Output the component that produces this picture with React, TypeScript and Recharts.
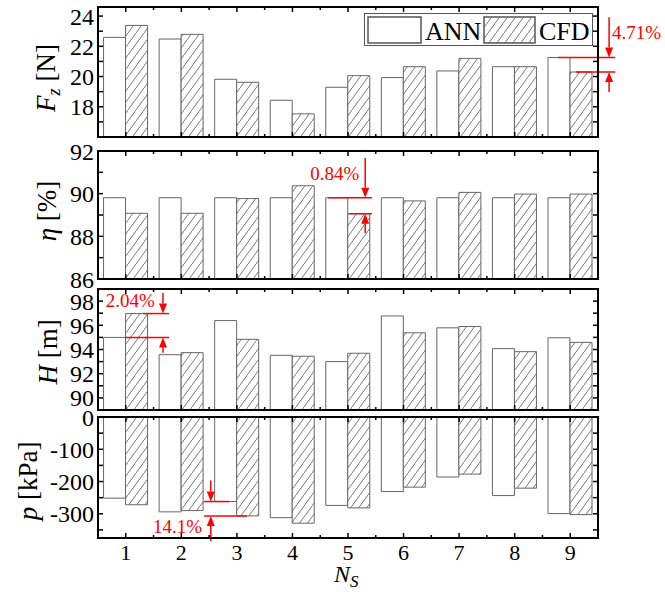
import React from "react";
import { Bar, BarChart, ReferenceDot, ReferenceLine, XAxis, YAxis } from "recharts";

// number of stages N_S
const categories = ["1", "2", "3", "4", "5", "6", "7", "8", "9"];

// axial force F_z [N]
const forceAnn = [22.59, 22.48, 19.82, 18.43, 19.29, 19.93, 20.37, 20.65, 21.26];
const forceCfd = [23.38, 22.79, 19.62, 17.53, 20.06, 20.65, 21.2, 20.65, 20.3];

// efficiency eta [%]
const effAnn = [89.81, 89.81, 89.81, 89.81, 89.81, 89.81, 89.81, 89.81, 89.81];
const effCfd = [89.08, 89.08, 89.77, 90.37, 89.06, 89.66, 90.06, 89.98, 89.98];

// head H [m]
const headAnn = [95.0, 93.57, 96.39, 93.52, 93.0, 96.77, 95.79, 94.07, 94.97];
const headCfd = [96.97, 93.74, 94.84, 93.44, 93.69, 95.38, 95.9, 93.82, 94.59];

// pressure p [kPa]
const presAnn = [-251.5, -294, -262, -312, -274, -231, -186, -243.5, -299.4];
const presCfd = [-272, -290, -306.5, -329, -281.7, -217.4, -177, -220.5, -302.5];

const forceTicks = [16, 17, 18, 19, 20, 21, 22, 23, 24];
const forceLabels = [18, 20, 22, 24];
const effTicks = [86, 87, 88, 89, 90, 91, 92];
const effLabels = [86, 88, 90, 92];
const headTicks = [89, 90, 91, 92, 93, 94, 95, 96, 97, 98, 99];
const headLabels = [90, 92, 94, 96, 98];
const presTicks = [0, -50, -100, -150, -200, -250, -300, -350];
const presLabels = [0, -100, -200, -300];

const W = 665;
const H = 592;
const LEFT = 98;
const RIGHT = 598;
const BAND = (RIGHT - LEFT) / categories.length;
const FONT = "'Liberation Serif', 'Times New Roman', serif";
const RED = "#ff0000";
const BAR_STROKE = "#666";

const panels = [
  { top: 7, bottom: 137 },
  { top: 151, bottom: 279 },
  { top: 289, bottom: 410 },
  { top: 417, bottom: 538 },
];

function makeRows(ann: number[], cfd: number[]) {
  return categories.map((c, i) => ({ ns: c, pos: i + 1, ann: ann[i], cfd: cfd[i] }));
}

function Arrow(props: any) {
  const { x1, y1, x2, y2 } = props;
  const dir = Math.sign(y2 - y1);
  const head = 10;
  const half = 4;
  return (
    <g>
      <line x1={x1} y1={y1} x2={x2} y2={y2 - dir * head} stroke={RED} strokeWidth={1.5} />
      <polygon
        points={`${x2},${y2} ${x2 - half},${y2 - dir * head} ${x2 + half},${y2 - dir * head}`}
        fill={RED}
      />
    </g>
  );
}

function Note(text: string) {
  return (p: any) => (
    <text x={p.cx} y={p.cy} fill={RED} fontSize={19} fontFamily={FONT}>
      {text}
    </text>
  );
}

function XTick(props: any) {
  const { x, payload, index, top, bottom, showLabel } = props;
  const minorX = x + BAND / 2;
  const last = index === categories.length - 1;
  return (
    <g>
      <line x1={x} x2={x} y1={bottom} y2={bottom - 5} stroke="#000" strokeWidth={1.5} />
      <line x1={x} x2={x} y1={top} y2={top + 5} stroke="#000" strokeWidth={1.5} />
      {!last && (
        <>
          <line x1={minorX} x2={minorX} y1={bottom} y2={bottom - 3} stroke="#000" strokeWidth={1.5} />
          <line x1={minorX} x2={minorX} y1={top} y2={top + 3} stroke="#000" strokeWidth={1.5} />
        </>
      )}
      {showLabel && (
        <text x={x} y={bottom + 22} textAnchor="middle" fontSize={22} fontFamily={FONT} fill="#000">
          {payload.value}
        </text>
      )}
    </g>
  );
}

type PanelProps = {
  rows: { ns: string; pos: number; ann: number; cfd: number }[];
  domain: [number, number];
  ticks: number[];
  labels: number[];
  top: number;
  bottom: number;
  showLabels?: boolean;
  children?: React.ReactNode;
};

function Panel({ rows, domain, ticks, labels, top, bottom, showLabels, children }: PanelProps) {
  return (
    <div style={{ position: "absolute", left: 0, top: 0 }}>
      <BarChart
        width={W}
        height={H}
        data={rows}
        margin={{ top, bottom: H - bottom - 1, left: 0, right: 0 }}
        barCategoryGap="10%"
        barGap={0}
      >
        <XAxis
          dataKey="ns"
          height={1}
          axisLine={false}
          tickLine={false}
          interval={0}
          tick={(p: any) => <XTick {...p} top={top} bottom={bottom} showLabel={showLabels} />}
        />
        <XAxis xAxisId="n" dataKey="pos" type="number" domain={[0.5, 9.5]} allowDataOverflow hide />
        <YAxis
          domain={domain}
          ticks={ticks}
          interval={0}
          allowDataOverflow
          width={LEFT}
          axisLine={false}
          tickSize={-5}
          tickMargin={9}
          tickLine={{ stroke: "#000", strokeWidth: 1.5 }}
          tick={{ fontSize: 24, fill: "#000", fontFamily: FONT }}
          tickFormatter={(v: number) => (labels.includes(v) ? String(v) : "")}
        />
        <YAxis
          yAxisId="r"
          orientation="right"
          domain={domain}
          ticks={ticks}
          interval={0}
          allowDataOverflow
          width={W - RIGHT}
          axisLine={false}
          tickSize={-5}
          tickLine={{ stroke: "#000", strokeWidth: 1.5 }}
          tickFormatter={() => ""}
        />
        <Bar dataKey="ann" fill="#fff" stroke={BAR_STROKE} strokeWidth={1} isAnimationActive={false} />
        <Bar dataKey="cfd" fill="url(#hatch)" stroke={BAR_STROKE} strokeWidth={1} isAnimationActive={false} />
        {children}
      </BarChart>
    </div>
  );
}

export default function App() {
  const redLine = { stroke: RED, strokeWidth: 1.5, xAxisId: "n", ifOverflow: "visible" as const };
  return (
    <div style={{ position: "absolute", left: 0, top: 0, width: W, height: H, background: "#fff" }}>
      <svg width={0} height={0} style={{ position: "absolute" }}>
        <defs>
          <pattern id="hatch" patternUnits="userSpaceOnUse" width={8} height={11}>
            <rect width={8} height={11} fill="#fff" />
            <path d="M-1,12.375 L9,-1.375" stroke="#555" strokeWidth={0.8} />
          </pattern>
        </defs>
      </svg>

      <Panel rows={makeRows(forceAnn, forceCfd)} domain={[16, 24.6]} ticks={forceTicks} labels={forceLabels} {...panels[0]}>
        <ReferenceLine {...redLine} segment={[{ x: 8.78, y: forceAnn[8] }, { x: 9.81, y: forceAnn[8] }]} />
        <ReferenceLine {...redLine} segment={[{ x: 9.1, y: forceCfd[8] }, { x: 9.81, y: forceCfd[8] }]} />
        <ReferenceLine {...redLine} segment={[{ x: 9.7, y: 23.93 }, { x: 9.7, y: forceAnn[8] }]} shape={Arrow} />
        <ReferenceLine {...redLine} segment={[{ x: 9.7, y: 18.98 }, { x: 9.7, y: forceCfd[8] }]} shape={Arrow} />
        <ReferenceDot xAxisId="n" x={9.75} y={22.46} r={1} ifOverflow="visible" shape={Note("4.71%")} />
      </Panel>

      <Panel rows={makeRows(effAnn, effCfd)} domain={[86, 92]} ticks={effTicks} labels={effLabels} {...panels[1]}>
        <ReferenceLine {...redLine} segment={[{ x: 4.64, y: effAnn[4] }, { x: 5.43, y: effAnn[4] }]} />
        <ReferenceLine {...redLine} segment={[{ x: 5.02, y: effCfd[4] }, { x: 5.43, y: effCfd[4] }]} />
        <ReferenceLine {...redLine} segment={[{ x: 5.31, y: 91.67 }, { x: 5.31, y: effAnn[4] }]} shape={Arrow} />
        <ReferenceLine {...redLine} segment={[{ x: 5.31, y: 88.16 }, { x: 5.31, y: effCfd[4] }]} shape={Arrow} />
        <ReferenceDot xAxisId="n" x={4.32} y={90.64} r={1} ifOverflow="visible" shape={Note("0.84%")} />
      </Panel>

      <Panel rows={makeRows(headAnn, headCfd)} domain={[89, 99]} ticks={headTicks} labels={headLabels} {...panels[2]}>
        <ReferenceLine {...redLine} segment={[{ x: 1.31, y: headCfd[0] }, { x: 1.78, y: headCfd[0] }]} />
        <ReferenceLine {...redLine} segment={[{ x: 0.99, y: headAnn[0] }, { x: 1.78, y: headAnn[0] }]} />
        <ReferenceLine {...redLine} segment={[{ x: 1.67, y: 98.66 }, { x: 1.67, y: headCfd[0] }]} shape={Arrow} />
        <ReferenceLine {...redLine} segment={[{ x: 1.67, y: 93.74 }, { x: 1.67, y: headAnn[0] }]} shape={Arrow} />
        <ReferenceDot xAxisId="n" x={0.64} y={97.5} r={1} ifOverflow="visible" shape={Note("2.04%")} />
      </Panel>

      <Panel rows={makeRows(presAnn, presCfd)} domain={[-375, 0]} ticks={presTicks} labels={presLabels} showLabels {...panels[3]}>
        <ReferenceLine {...redLine} segment={[{ x: 2.41, y: presAnn[2] }, { x: 2.86, y: presAnn[2] }]} />
        <ReferenceLine {...redLine} segment={[{ x: 2.41, y: presCfd[2] }, { x: 3.18, y: presCfd[2] }]} />
        <ReferenceLine {...redLine} segment={[{ x: 2.53, y: -197 }, { x: 2.53, y: presAnn[2] }]} shape={Arrow} />
        <ReferenceLine {...redLine} segment={[{ x: 2.53, y: -384 }, { x: 2.53, y: presCfd[2] }]} shape={Arrow} />
        <ReferenceDot xAxisId="n" x={1.49} y={-358} r={1} ifOverflow="visible" shape={Note("14.1%")} />
      </Panel>

      {panels.map((p, i) => (
        <div
          key={i}
          style={{
            position: "absolute",
            left: LEFT - 1,
            top: p.top - 1,
            width: RIGHT - LEFT + 2,
            height: p.bottom - p.top + 2,
            border: "2px solid #000",
            boxSizing: "border-box",
            pointerEvents: "none",
          }}
        />
      ))}

      {/* legend */}
      <div
        style={{
          position: "absolute",
          left: 364,
          top: 13,
          width: 229,
          height: 33,
          border: "1.5px solid #555",
          boxSizing: "border-box",
          background: "#fff",
        }}
      />
      <svg width={W} height={H} style={{ position: "absolute", left: 0, top: 0, pointerEvents: "none" }}>
        <rect x={368} y={17} width={53} height={26} fill="#fff" stroke="#555" strokeWidth={1.5} />
        <text x={425} y={40} fontSize={26} fontFamily={FONT} fill="#000">ANN</text>
        <rect x={484} y={17} width={51} height={26} fill="url(#hatch)" stroke="#555" strokeWidth={1.5} />
        <text x={539} y={40} fontSize={26} fontFamily={FONT} fill="#000">CFD</text>

        <g fontFamily={FONT} fontSize={27} fill="#000">
          <text transform="translate(55,78) rotate(-90)" textAnchor="middle">
            <tspan fontStyle="italic">F</tspan>
            <tspan fontStyle="italic" fontSize={18} dy={5}>z</tspan>
            <tspan dy={-5}> [N]</tspan>
          </text>
          <text transform="translate(56,211) rotate(-90)" textAnchor="middle">
            <tspan fontStyle="italic">η</tspan>
            <tspan> [%]</tspan>
          </text>
          <text transform="translate(57,352) rotate(-90)" textAnchor="middle">
            <tspan fontStyle="italic">H</tspan>
            <tspan> [m]</tspan>
          </text>
          <text transform="translate(37,481) rotate(-90)" textAnchor="middle">
            <tspan fontStyle="italic">p</tspan>
            <tspan> [kPa]</tspan>
          </text>
          <text x={334} y={582} fontSize={24}>
            <tspan fontStyle="italic">N</tspan>
            <tspan fontStyle="italic" fontSize={17} dy={5}>S</tspan>
          </text>
        </g>
      </svg>
    </div>
  );
}
